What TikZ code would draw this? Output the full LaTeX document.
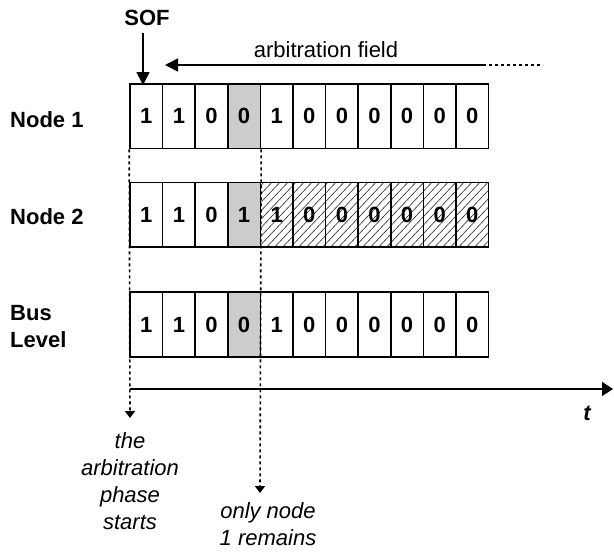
\documentclass[tikz,border=0pt]{standalone}
\usepackage{fontspec}
\setmainfont{Liberation Sans}
\usetikzlibrary{arrows.meta}
\definecolor{stip}{RGB}{204,204,204}
\begin{document}
\begin{tikzpicture}[x=1pt,y=-1pt,
  cell/.style={draw=black, line width=1.6pt, minimum width=32.6pt, minimum height=64.5pt,
    inner sep=0pt, font=\fontsize{22}{26}\selectfont\bfseries},
  wcell/.style={cell, fill=white},
  gcell/.style={cell, fill=stip},
  hcell/.style={cell},
  lbl/.style={font=\fontsize{22}{27}\selectfont\bfseries, align=left, anchor=west, inner sep=0pt},
  note/.style={font=\fontsize{22}{27}\selectfont\itshape, align=center, inner sep=0pt, anchor=north},
  dotline/.style={line width=1.6pt, dash pattern=on 3pt off 3pt},
  smalltip/.style={-{Triangle[width=10pt,length=7pt]}},
  bigtip/.style={-{Triangle[width=13pt,length=13pt]}},
  axistip/.style={-{Triangle[width=14pt,length=11pt]}},
  hatch/.style={line width=0.6pt, black!85}
]
\useasboundingbox (0,0) rectangle (614,552);

% hatch background of node 2 recessive bits
\begin{scope}
  \clip (260,182.7) rectangle (489,246.7);
  \foreach \k in {0,...,40}
    \draw[hatch] (190+\k*8,252) -- ++(70,-74);
\end{scope}

% row 1: Node 1
\foreach \b [count=\i] in {1,1,0,0,1,0,0,0,0,0,0} {
  \ifnum\i=4
    \node[gcell] (a\i) at ({130+32.6*(\i-0.5)},116.2) {\b};
  \else
    \node[wcell] (a\i) at ({130+32.6*(\i-0.5)},116.2) {\b};
  \fi
}
% row 2: Node 2
\foreach \b [count=\i] in {1,1,0,1,1,0,0,0,0,0,0} {
  \ifnum\i<4
    \node[wcell] (b\i) at ({130+32.6*(\i-0.5)},214.7) {\b};
  \else\ifnum\i=4
    \node[gcell] (b\i) at ({130+32.6*(\i-0.5)},214.7) {\b};
  \else
    \node[hcell] (b\i) at ({130+32.6*(\i-0.5)},214.7) {\b};
  \fi\fi
}
% row 3: Bus level
\foreach \b [count=\i] in {1,1,0,0,1,0,0,0,0,0,0} {
  \ifnum\i=4
    \node[gcell] (c\i) at ({130+32.6*(\i-0.5)},324.5) {\b};
  \else
    \node[wcell] (c\i) at ({130+32.6*(\i-0.5)},324.5) {\b};
  \fi
}

% row labels
\node[lbl] (l1) at (10,120) {Node 1};
\node[lbl] (l2) at (10,217) {Node 2};
\node[lbl] (l3) at (10,326.5) {Bus\\Level};

% SOF
\node[font=\fontsize{22}{27}\selectfont\bfseries, inner sep=0pt] (sof) at (147,18) {SOF};
\coordinate (sofs) at (143,33);
\coordinate (soft) at (143,85);
\draw[line width=1.6pt, bigtip] (sofs) -- (soft);

% arbitration field
\node[font=\fontsize{22}{27}\selectfont, inner sep=0pt] (af) at (326,50) {arbitration field};
\coordinate (afe) at (543,65);
\coordinate (afm) at (483,65);
\coordinate (aft) at (165,65);
\draw[line width=1.6pt, bigtip] (afm) -- (aft);
\draw[dotline] (afm) -- (afe);

% time axis
\coordinate (ax0) at (130,389);
\coordinate (ax1) at (613,389);
\draw[line width=1.6pt, axistip] (ax0) -- (ax1);
\node[font=\fontsize{22}{27}\selectfont\bfseries\itshape, inner sep=0pt] (t) at (587,413) {t};

% dotted markers
\coordinate (d1) at (130,418);
\coordinate (d2) at (260,493);
\draw[dotline, smalltip] (a1.south west) -- (d1);
\draw[dotline, smalltip] (a4.south east) -- (d2);

% notes
\node[note] (n1) at (130,432) {the\\arbitration\\phase\\starts};
\node[note] (n2) at (268,502) {only node\\1 remains};
\end{tikzpicture}
\end{document}
